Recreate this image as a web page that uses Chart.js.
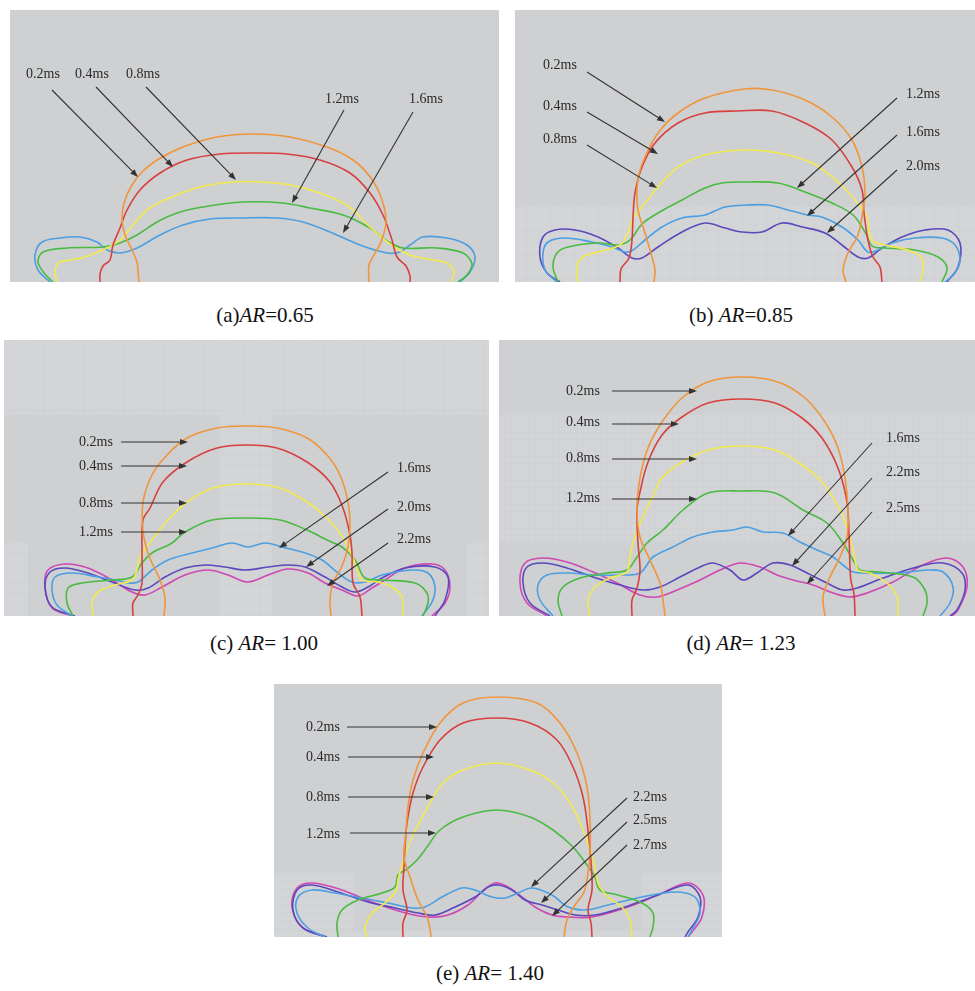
<!DOCTYPE html>
<html>
<head>
<meta charset="utf-8">
<script src="https://cdn.jsdelivr.net/npm/chart.js@4.4.1/dist/chart.umd.min.js"></script>
<style>
  body { margin: 0; background: #fff; width: 975px; height: 991px; position: relative; overflow: hidden; }
  .panel { position: absolute; }
  .cap { position: absolute; font-family: "Liberation Serif", "Times New Roman", serif; font-size: 21px; color: #111; transform: translateX(-50%); white-space: nowrap; }
  .cap i { font-style: italic; }
</style>
</head>
<body>
<div class="panel" style="left:10px;top:10px"><canvas id="pa" width="489" height="272"></canvas></div>
<div class="panel" style="left:515px;top:10px"><canvas id="pb" width="460" height="272"></canvas></div>
<div class="panel" style="left:4px;top:340px"><canvas id="pc" width="485" height="276"></canvas></div>
<div class="panel" style="left:499px;top:340px"><canvas id="pd" width="476" height="276"></canvas></div>
<div class="panel" style="left:274px;top:684px"><canvas id="pe" width="448" height="253"></canvas></div>

<div class="cap" style="left:265px;top:303px">(a)<i>AR</i>=0.65</div>
<div class="cap" style="left:741px;top:303px">(b) <i>AR</i>=0.85</div>
<div class="cap" style="left:264px;top:631px">(c) <i>AR</i>= 1.00</div>
<div class="cap" style="left:741px;top:631px">(d) <i>AR</i>= 1.23</div>
<div class="cap" style="left:490px;top:961px">(e) <i>AR</i>= 1.40</div>

<script>
// interface contours, [x, y] in panel units (y = height above the bottom edge)

// (a) AR=0.65
const a_orange = [[129,0],[128,10],[127,20],[122,32],[115,47],[112,64],[115,82],[122,97],[132,110],[147,122],[173,135],[207,145],[243,148],[280,145],[317,135],[343,122],[361,104],[372,82],[376,60],[371,40],[364,27],[359,17],[359,0]];
const a_red = [[90,0],[90,8],[93,16],[100,22],[103,37],[110,54],[117,72],[130,92],[150,109],[177,122],[210,128],[243,129],[277,128],[310,122],[340,109],[360,89],[373,67],[382,42],[387,25],[396,16],[400,6],[400,0]];
const a_yellow = [[47,0],[45,10],[48,19],[60,22],[75,25],[95,33],[110,42],[123,57],[137,72],[157,83],[190,95],[223,100],[250,100],[280,97],[310,89],[338,76],[360,55],[380,38],[400,27],[423,22],[437,19],[444,10],[441,0]];
const a_green = [[43,0],[35,8],[28,20],[33,30],[57,34],[93,35],[110,39],[127,47],[147,60],[167,69],[193,75],[233,80],[273,79],[300,74],[333,67],[360,54],[377,41],[393,34],[427,34],[453,29],[462,18],[457,7],[448,0]];
const a_blue = [[40,0],[28,12],[25,27],[32,40],[50,44],[70,45],[87,40],[97,32],[110,29],[127,34],[150,47],[173,57],[200,63],[233,64],[267,64],[293,60],[320,50],[350,37],[377,29],[390,30],[400,37],[413,45],[437,44],[457,37],[465,25],[460,10],[450,0]];
const a_labels = ['0.2ms','0.4ms','0.8ms','1.2ms','1.6ms'];
const a_labelAt = [[33,208],[82,208],[133,208],[332,183],[416,183]];
const a_from = [[42,192],[86,195],[136,195],[334,172],[403,170]];
const a_to = [[128,105],[163,115],[226,102],[282,79],[333,49]];

// (b) AR=0.85
const b_orange = [[139,0],[140,12],[137,25],[130,49],[123,72],[122,92],[124,108],[130,125],[143,149],[163,169],[190,184],[230,193],[257,192],[290,182],[317,165],[337,142],[347,115],[350,90],[348,72],[343,47],[333,29],[328,12],[331,0]];
const b_red = [[105,0],[106,13],[114,24],[117,42],[118,65],[120,89],[127,115],[140,139],[163,159],[190,169],[223,171],[257,171],[290,159],[317,142],[337,115],[347,92],[349,69],[353,42],[358,25],[365,15],[367,0]];
const b_yellow = [[62,0],[62,15],[68,25],[83,30],[105,37],[113,49],[117,62],[127,75],[143,95],[163,115],[190,127],[230,132],[263,129],[297,119],[323,100],[340,82],[352,65],[357,42],[370,37],[393,32],[407,24],[408,12],[405,0]];
const b_green = [[43,0],[38,15],[42,29],[53,35],[83,39],[103,37],[115,42],[127,58],[143,69],[167,82],[190,94],[207,99],[233,100],[263,99],[290,90],[317,79],[338,67],[350,50],[357,36],[370,34],[400,32],[423,25],[432,14],[427,0]];
const b_blue = [[42,0],[30,12],[28,29],[33,40],[50,44],[77,40],[97,35],[110,30],[118,32],[130,42],[147,55],[167,64],[190,67],[210,75],[233,77],[253,77],[273,72],[293,67],[307,65],[327,55],[343,42],[353,30],[363,32],[377,39],[400,44],[427,44],[440,37],[445,22],[440,9],[430,0]];
const b_purple = [[45,0],[32,9],[25,25],[28,45],[40,52],[60,52],[83,45],[103,34],[117,24],[127,24],[143,35],[167,50],[190,59],[210,54],[227,50],[247,50],[267,59],[287,55],[310,49],[327,37],[343,25],[353,24],[367,34],[387,45],[410,52],[433,52],[445,39],[443,15],[432,0]];
const b_labels = ['0.2ms','0.4ms','0.8ms','1.2ms','1.6ms','2.0ms'];
const b_labelAt = [[45,217],[45,176],[45,143],[408,188],[408,150],[408,116]];
const b_from = [[72,210],[72,170],[72,137],[382,184],[382,147],[382,112]];
const b_to = [[150,160],[143,128],[142,94],[282,94],[292,66],[312,49]];

// (c) AR=1.00
const c_orange = [[160,0],[161,18],[156,36],[148,53],[143,66],[139,85],[139,114],[148,141],[163,161],[183,178],[213,188],[243,190],[273,188],[303,178],[323,161],[336,141],[344,114],[346,90],[344,69],[338,50],[329,33],[326,16],[327,0]];
const c_red = [[129,0],[129,13],[134,21],[138,33],[138,63],[139,96],[146,108],[159,134],[183,154],[213,168],[243,171],[273,168],[303,154],[326,134],[339,108],[346,81],[348,63],[349,33],[356,19],[358,0]];
const c_yellow = [[89,0],[88,13],[94,24],[111,31],[128,36],[133,46],[136,59],[148,76],[164,96],[183,114],[209,128],[243,132],[276,128],[303,114],[323,98],[338,80],[349,58],[354,44],[358,36],[374,34],[388,29],[398,19],[399,0]];
const c_green = [[69,0],[63,13],[64,28],[78,33],[108,36],[128,39],[138,53],[148,63],[168,73],[181,84],[208,96],[243,98],[276,96],[303,86],[323,76],[338,69],[351,56],[361,38],[378,36],[411,33],[423,23],[424,13],[419,0]];
const c_blue = [[68,0],[53,11],[48,26],[51,39],[68,43],[94,39],[111,36],[124,33],[134,34],[148,46],[164,56],[188,63],[208,68],[228,73],[244,69],[261,73],[278,69],[298,64],[318,56],[334,43],[348,34],[361,34],[378,41],[408,46],[424,43],[431,29],[428,14],[418,0]];
const c_purple = [[71,0],[48,9],[41,29],[46,44],[61,48],[84,43],[108,34],[131,26],[144,28],[161,39],[181,48],[201,51],[221,49],[241,46],[264,49],[284,51],[301,49],[321,39],[338,29],[351,24],[364,29],[378,38],[401,48],[431,49],[444,39],[441,16],[431,0]];
const c_magenta = [[69,0],[48,8],[41,29],[44,46],[61,52],[84,48],[108,36],[128,24],[141,21],[158,29],[181,41],[204,46],[224,41],[244,34],[264,41],[284,47],[304,43],[321,33],[338,26],[354,20],[368,28],[381,36],[401,48],[428,52],[441,46],[446,29],[441,13],[428,0]];
const c_labels = ['0.2ms','0.4ms','0.8ms','1.2ms','1.6ms','2.0ms','2.2ms'];
const c_labelAt = [[92,174],[92,150],[92,113],[92,84],[410,148],[410,109],[410,77]];
const c_from = [[117,174],[117,150],[117,113],[117,84],[384,144],[384,107],[384,73]];
const c_to = [[184,174],[183,150],[183,113],[183,84],[275,68],[302,49],[323,30]];

// (d) AR=1.23
const d_orange = [[166,0],[164,16],[161,33],[151,56],[141,79],[138,106],[141,138],[149,168],[163,194],[183,218],[209,234],[243,239],[279,234],[306,218],[326,194],[339,168],[346,138],[349,106],[348,79],[341,59],[331,39],[324,19],[326,0]];
const d_red = [[133,0],[133,16],[138,28],[141,46],[139,73],[138,106],[141,124],[149,154],[163,181],[183,199],[209,213],[243,217],[276,213],[303,198],[323,178],[339,148],[348,114],[350,81],[351,48],[352,35],[355,22],[356,0]];
const d_yellow = [[91,0],[89,16],[96,29],[111,38],[128,44],[131,59],[134,73],[140,90],[147,106],[155,122],[163,138],[183,154],[209,166],[243,170],[276,166],[303,151],[323,134],[339,110],[349,86],[355,62],[359,46],[371,43],[388,33],[398,19],[399,0]];
const d_green = [[63,0],[59,16],[64,29],[81,38],[108,43],[128,46],[138,59],[148,73],[164,86],[184,106],[209,123],[243,125],[276,123],[304,106],[328,93],[344,73],[354,56],[361,46],[381,44],[414,39],[426,26],[428,13],[424,0]];
const d_blue = [[54,0],[41,16],[39,31],[48,41],[68,43],[94,41],[121,41],[141,43],[154,59],[174,69],[194,79],[214,84],[234,86],[248,89],[264,84],[284,83],[301,74],[318,66],[334,59],[344,51],[354,44],[368,43],[401,43],[428,46],[444,44],[454,29],[451,13],[441,0]];
const d_purple = [[51,0],[31,13],[24,33],[28,49],[44,53],[68,48],[94,39],[121,31],[144,26],[161,29],[181,39],[201,49],[214,53],[231,46],[244,36],[258,43],[274,53],[291,51],[308,43],[328,33],[344,26],[358,28],[384,38],[418,49],[444,53],[463,43],[466,26],[458,6],[451,0]];
const d_magenta = [[48,0],[28,13],[21,33],[26,53],[44,58],[68,54],[94,44],[118,33],[141,21],[158,19],[178,26],[201,36],[221,46],[241,53],[261,49],[278,41],[294,36],[314,31],[334,23],[351,19],[368,23],[394,34],[424,51],[448,58],[464,49],[468,29],[459,6],[453,0]];
const d_labels = ['0.2ms','0.4ms','0.8ms','1.2ms','1.6ms','2.2ms','2.5ms'];
const d_labelAt = [[84,225],[84,194],[84,158],[84,118],[404,178],[404,144],[404,108]];
const d_from = [[113,225],[113,192],[113,157],[113,117],[373,173],[373,138],[373,104]];
const d_to = [[198,225],[180,192],[198,157],[198,117],[289,80],[293,50],[308,32]];

// (e) AR=1.40
const e_orange = [[157,0],[156,8],[153,20],[144,37],[136,60],[130,80],[132,104],[134,130],[139,157],[149,184],[166,214],[189,234],[223,240],[263,234],[286,214],[303,184],[313,150],[316,117],[316,84],[314,64],[310,45],[301,32],[293,17],[290,0]];
const e_red = [[129,0],[129,14],[133,27],[129,47],[130,70],[131,90],[133,114],[139,144],[149,170],[166,197],[189,214],[223,219],[256,214],[283,197],[299,170],[309,140],[314,107],[317,75],[318,47],[314,27],[317,14],[318,0]];
const e_yellow = [[93,0],[91,10],[98,24],[111,34],[122,46],[124,57],[128,72],[134,90],[143,110],[156,134],[169,154],[189,167],[223,174],[256,167],[279,154],[296,134],[308,110],[316,87],[321,70],[324,54],[334,40],[348,30],[356,17],[358,0]];
const e_green = [[64,0],[63,14],[68,27],[84,37],[108,44],[121,50],[124,62],[133,68],[143,77],[153,90],[166,107],[189,120],[223,127],[256,120],[279,107],[299,90],[313,72],[321,60],[326,47],[344,42],[368,34],[379,24],[379,10],[376,0]];
const e_blue = [[51,0],[34,9],[23,24],[24,40],[38,47],[61,44],[88,39],[114,34],[138,29],[151,30],[168,40],[188,49],[201,47],[218,40],[231,39],[244,44],[258,49],[278,42],[294,30],[311,27],[334,32],[368,40],[401,45],[421,40],[426,24],[418,7],[414,0]];
const e_purple = [[53,0],[29,9],[19,27],[23,47],[38,52],[64,45],[94,35],[121,29],[144,24],[161,22],[181,30],[201,40],[214,50],[224,52],[238,47],[251,37],[268,32],[284,27],[301,22],[321,22],[351,30],[384,42],[414,52],[426,40],[424,20],[414,5],[411,0]];
const e_magenta = [[51,0],[28,10],[18,30],[23,49],[39,54],[68,47],[98,35],[128,25],[154,20],[174,22],[194,32],[208,45],[221,54],[234,50],[248,40],[261,30],[278,22],[294,20],[318,20],[351,29],[384,42],[414,54],[429,42],[428,20],[418,5],[414,0]];
const e_labels = ['0.2ms','0.4ms','0.8ms','1.2ms','2.2ms','2.5ms','2.7ms'];
const e_labelAt = [[49,210],[49,180],[49,140],[49,103],[376,140],[376,117],[376,92]];
const e_from = [[73,210],[74,180],[74,140],[76,104],[353,139],[353,115],[353,92]];
const e_to = [[163,210],[160,180],[160,140],[162,104],[257,50],[267,34],[278,21]];

const COLORS = {
  orange: '#f0953b', red: '#d8403f', yellow: '#f2ea4c', green: '#49bb43',
  blue: '#4b9fe2', purple: '#5a48bc', magenta: '#cf48b4'
};

// lighter mesh patches of the background [x0, y0, x1, y1, grid step]
const MESH = {
  pa: [],
  pb: [[0, 0, 460, 75, 12]],
  pc: [[0, 201, 485, 276, 10], [216, 0, 268, 201, 10], [0, 0, 24, 73, 10], [463, 0, 485, 73, 10]],
  pd: [[0, 74, 476, 201, 6]],
  pe: [[0, 7, 81, 64, 8], [368, 7, 448, 64, 8], [0, 0, 448, 6, 0]]
};

const bgPlugin = {
  id: 'bg',
  beforeDraw(chart) {
    const { ctx, chartArea: ca, scales: { x, y } } = chart;
    ctx.save();
    ctx.fillStyle = '#cfd0d2';
    ctx.fillRect(ca.left, ca.top, ca.width, ca.height);
    (MESH[chart.canvas.id] || []).forEach(m => {
      const x0 = x.getPixelForValue(m[0]), x1 = x.getPixelForValue(m[2]);
      const y0 = y.getPixelForValue(m[3]), y1 = y.getPixelForValue(m[1]);
      ctx.fillStyle = '#d4d5d7';
      ctx.fillRect(x0, y0, x1 - x0, y1 - y0);
      if (m[4] > 0) {
        ctx.strokeStyle = 'rgba(196,197,200,0.4)';
        ctx.lineWidth = 0.5;
        ctx.beginPath();
        for (let gx = x0 + m[4]; gx < x1; gx += m[4]) { ctx.moveTo(gx, y0); ctx.lineTo(gx, y1); }
        for (let gy = y0 + m[4]; gy < y1; gy += m[4]) { ctx.moveTo(x0, gy); ctx.lineTo(x1, gy); }
        ctx.stroke();
      }
    });
    ctx.restore();
  }
};

const arrowPlugin = {
  id: 'arrows',
  afterDatasetsDraw(chart, args, opts) {
    const { ctx, scales: { x, y } } = chart;
    ctx.save();
    ctx.strokeStyle = '#333';
    ctx.fillStyle = '#333';
    ctx.lineWidth = 1.1;
    opts.from.forEach((f, i) => {
      const x0 = x.getPixelForValue(f[0]), y0 = y.getPixelForValue(f[1]);
      const x1 = x.getPixelForValue(opts.to[i][0]), y1 = y.getPixelForValue(opts.to[i][1]);
      const ang = Math.atan2(y1 - y0, x1 - x0);
      const len = 8, half = 3;
      ctx.beginPath();
      ctx.moveTo(x0, y0);
      ctx.lineTo(x1 - Math.cos(ang) * len * 0.8, y1 - Math.sin(ang) * len * 0.8);
      ctx.stroke();
      ctx.beginPath();
      ctx.moveTo(x1, y1);
      ctx.lineTo(x1 - Math.cos(ang) * len - Math.sin(ang) * half, y1 - Math.sin(ang) * len + Math.cos(ang) * half);
      ctx.lineTo(x1 - Math.cos(ang) * len + Math.sin(ang) * half, y1 - Math.sin(ang) * len - Math.cos(ang) * half);
      ctx.closePath();
      ctx.fill();
    });
    ctx.font = '14px "Liberation Serif", "Times New Roman", serif';
    ctx.fillStyle = '#2a2a2a';
    ctx.textAlign = 'center';
    ctx.textBaseline = 'middle';
    opts.labels.forEach((t, i) => {
      ctx.fillText(t, x.getPixelForValue(opts.labelAt[i][0]), y.getPixelForValue(opts.labelAt[i][1]));
    });
    ctx.restore();
  }
};

function makePanel(id, w, h, curves, labels, labelAt, from, to) {
  const datasets = curves.map(c => ({
    data: c[1].map(p => ({ x: p[0], y: p[1] })),
    showLine: true,
    borderColor: COLORS[c[0]],
    borderWidth: 1.6,
    pointRadius: 0,
    tension: 0.35,
    fill: false
  }));
  new Chart(document.getElementById(id), {
    type: 'scatter',
    data: { datasets },
    options: {
      responsive: false,
      animation: false,
      events: [],
      layout: { padding: 0 },
      plugins: {
        legend: { display: false },
        tooltip: { enabled: false },
        arrows: { labels, labelAt, from, to }
      },
      scales: {
        x: { type: 'linear', display: false, min: 0, max: w },
        y: { type: 'linear', display: false, min: 0, max: h }
      }
    },
    plugins: [bgPlugin, arrowPlugin]
  });
}

makePanel('pa', 489, 272,
  [['orange', a_orange], ['red', a_red], ['yellow', a_yellow], ['green', a_green], ['blue', a_blue]],
  a_labels, a_labelAt, a_from, a_to);
makePanel('pb', 460, 272,
  [['orange', b_orange], ['red', b_red], ['yellow', b_yellow], ['green', b_green], ['blue', b_blue], ['purple', b_purple]],
  b_labels, b_labelAt, b_from, b_to);
makePanel('pc', 485, 276,
  [['orange', c_orange], ['red', c_red], ['yellow', c_yellow], ['green', c_green], ['blue', c_blue], ['purple', c_purple], ['magenta', c_magenta]],
  c_labels, c_labelAt, c_from, c_to);
makePanel('pd', 476, 276,
  [['orange', d_orange], ['red', d_red], ['yellow', d_yellow], ['green', d_green], ['blue', d_blue], ['purple', d_purple], ['magenta', d_magenta]],
  d_labels, d_labelAt, d_from, d_to);
makePanel('pe', 448, 253,
  [['orange', e_orange], ['red', e_red], ['yellow', e_yellow], ['green', e_green], ['blue', e_blue], ['purple', e_purple], ['magenta', e_magenta]],
  e_labels, e_labelAt, e_from, e_to);
</script>
</body>
</html>
